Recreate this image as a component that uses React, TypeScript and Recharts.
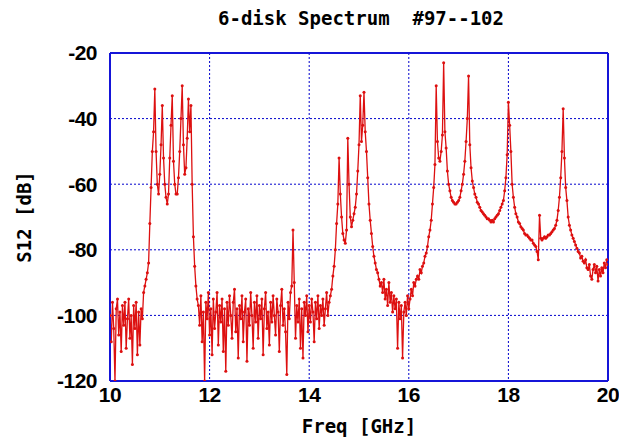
import React from 'react';
import { LineChart, Line, XAxis, YAxis, CartesianGrid, Label } from 'recharts';

// S12 samples every 25 MHz, split into bands by start frequency (GHz)
const STEP = 0.025;

const lowBandStart = 10.0;
const lowBand = [
  -100, -108, -96, -104, -120, -98, -95, -106, -99, -111,
  -97, -103, -96, -110, -101, -95, -107, -100, -115, -97,
  -104, -96, -112, -99, -109, -98, -101, -93, -91, -89,
  -87, -84, -72, -61, -50, -44, -31, -50, -60, -63,
  -57, -48, -36, -52, -60, -64, -66, -63, -52, -42,
  -33, -53, -60, -63, -63, -58, -50, -40, -30, -48,
  -57, -55, -46, -34, -44, -36, -60, -76, -85, -91,
  -95,
];

const midBandStart = 11.775;
const midBand = [
  -97, -103, -94, -108, -99, -120, -96, -101, -93, -106,
  -98, -112, -95, -104, -99, -93, -109, -97, -102, -95,
  -111, -98, -117, -96, -103, -94, -100, -107, -96, -92,
  -105, -98, -113, -97, -101, -94, -108, -99, -95, -114,
  -98, -103, -93, -100, -110, -96, -102, -94, -107, -97,
  -101, -95, -112, -98, -93, -104, -99, -109, -96, -102,
  -94, -100, -106, -95, -99, -111, -97, -92, -103, -98,
  -105, -118, -96, -101, -93, -91, -74, -90, -107, -97,
  -102, -95, -110, -98, -113, -96, -100, -94, -105, -97,
  -102, -95, -99, -108, -96, -101, -94, -104, -97, -100,
  -95, -103, -98, -93, -100, -96, -94,
];

const highBandStart = 14.45;
const highBand = [
  -92, -88, -85, -80, -72, -66, -52, -63, -70, -75,
  -77, -78, -74, -46, -60, -70, -73, -71, -69, -67,
  -63, -56, -48, -33, -47, -42, -32, -44, -50, -58,
  -66, -71, -75, -79, -82, -84, -86, -87, -89, -91,
  -90, -93, -89, -95, -92, -97, -90, -96, -93, -99,
  -94, -98, -95, -110, -96, -101, -97, -113, -99, -96,
  -100, -94, -98, -95, -92, -94, -90, -91, -89, -88,
  -89, -86, -87, -85, -84, -82, -81, -79, -76, -74,
  -71, -66, -61, -54, -30, -47, -52, -53, -50, -45,
  -23, -44, -49, -56, -60, -62, -64, -65, -65.5, -66,
  -66, -65.5, -65, -64, -62, -60, -57, -53, -47, -40,
  -27, -48, -55, -59, -61, -63, -64, -65.5, -66, -67,
  -68, -68.5, -69, -69.5, -70, -70.5, -70.5, -71, -71.5, -71,
  -71.5, -70.5, -70, -69.5, -69, -68, -67, -66, -65, -62,
  -58, -51, -35, -42, -50, -60, -64, -67, -69, -70,
  -71.5, -72, -73, -73.5, -74, -75, -75.5, -75.5, -76, -76.5,
  -77, -77, -78, -78.5, -79, -80.5, -83, -69.5, -76.5, -77,
  -76.5, -76, -76.5, -76, -75.5, -75.5, -75, -74.5, -74, -73.5,
  -72.5, -71, -68, -64, -58, -50, -37, -52, -61, -65,
  -70, -72.5, -74, -75.5, -76.5, -77.5, -78.5, -79.5, -80.5, -81,
  -82.5, -82, -83.5, -84, -83, -85.5, -86, -84.5, -88, -89,
  -86, -84.5, -87, -85, -89.5, -86, -88, -85.5, -87, -84,
  -85.5, -83, -84.5,
];

const freqTicks = [10, 12, 14, 16, 18, 20];
const freqMinorTicks = [
  10, 10.5, 11, 11.5, 12, 12.5, 13, 13.5, 14, 14.5, 15,
  15.5, 16, 16.5, 17, 17.5, 18, 18.5, 19, 19.5, 20,
];
const s12Ticks = [-120, -100, -80, -60, -40, -20];
const s12MinorTicks = [
  -120, -115, -110, -105, -100, -95, -90, -85, -80, -75, -70,
  -65, -60, -55, -50, -45, -40, -35, -30, -25, -20,
];

const bands = [
  { start: lowBandStart, values: lowBand },
  { start: midBandStart, values: midBand },
  { start: highBandStart, values: highBand },
];

const data = bands.flatMap((b) =>
  b.values.map((v, k) => ({ freq: Number((b.start + k * STEP).toFixed(3)), s12: v }))
);

const FRAME = '#1515d8';
const GRID = '#0000cc';
const RED = '#dd1010';
const tickFont = {
  fontFamily: "'Liberation Sans', Arial, sans-serif",
  fontWeight: 700,
  fontSize: 21,
  letterSpacing: -0.5,
  fill: '#000',
};
const labelFont = {
  fontFamily: "'DejaVu Sans Mono', monospace",
  fontWeight: 700,
  fontSize: 19,
  fill: '#000',
};

export default function App() {
  return (
    <div style={{ position: 'absolute', left: 0, top: 0, width: 619, height: 441, background: '#fff' }}>
      <div
        style={{
          position: 'absolute',
          left: 161,
          top: 7,
          width: 400,
          textAlign: 'center',
          fontFamily: labelFont.fontFamily,
          fontWeight: 700,
          fontSize: 19,
          color: '#000',
          whiteSpace: 'pre',
        }}
      >
        {'6-disk Spectrum  #97--102'}
      </div>
      <LineChart width={619} height={441} data={data} margin={{ top: 53, right: 11, bottom: 0, left: 0 }}>
        <CartesianGrid stroke={GRID} strokeDasharray="2 2" />
        <XAxis
          xAxisId={0}
          dataKey="freq"
          type="number"
          domain={[10, 20]}
          ticks={freqTicks}
          interval={0}
          allowDataOverflow
          height={60}
          tickLine={false}
          tickSize={6}
          tickMargin={0}
          axisLine={{ stroke: FRAME, strokeWidth: 2 }}
          tick={tickFont}
        >
          <Label value="Freq [GHz]" position="insideBottom" offset={8} style={labelFont} />
        </XAxis>
        <XAxis
          xAxisId="bottomMinor"
          type="number"
          domain={[10, 20]}
          ticks={freqMinorTicks}
          interval={0}
          mirror
          tick={false}
          tickSize={4}
          stroke={FRAME}
          axisLine={false}
        />
        <XAxis
          xAxisId="topMinor"
          orientation="top"
          type="number"
          domain={[10, 20]}
          ticks={freqMinorTicks}
          interval={0}
          mirror
          tick={false}
          tickSize={4}
          stroke={FRAME}
          axisLine={{ stroke: FRAME, strokeWidth: 2 }}
        />
        <YAxis
          yAxisId={0}
          type="number"
          domain={[-120, -20]}
          ticks={s12Ticks}
          interval={0}
          allowDataOverflow
          width={110}
          tickLine={false}
          tickSize={6}
          tickMargin={7}
          axisLine={{ stroke: FRAME, strokeWidth: 2 }}
          tick={tickFont}
        >
          <Label
            value="S12 [dB]"
            position="insideLeft"
            angle={-90}
            offset={24}
            style={{ ...labelFont, textAnchor: 'middle' }}
          />
        </YAxis>
        <YAxis
          yAxisId="leftMinor"
          type="number"
          domain={[-120, -20]}
          ticks={s12MinorTicks}
          interval={0}
          mirror
          tick={false}
          tickSize={4}
          stroke={FRAME}
          axisLine={false}
        />
        <YAxis
          yAxisId="rightMinor"
          orientation="right"
          type="number"
          domain={[-120, -20]}
          ticks={s12MinorTicks}
          interval={0}
          mirror
          tick={false}
          tickSize={4}
          stroke={FRAME}
          axisLine={{ stroke: FRAME, strokeWidth: 2 }}
        />
        <Line
          xAxisId={0}
          yAxisId={0}
          type="linear"
          dataKey="s12"
          stroke={RED}
          strokeWidth={1.3}
          dot={{ r: 1.5, fill: RED, stroke: 'none' }}
          isAnimationActive={false}
        />
      </LineChart>
    </div>
  );
}
